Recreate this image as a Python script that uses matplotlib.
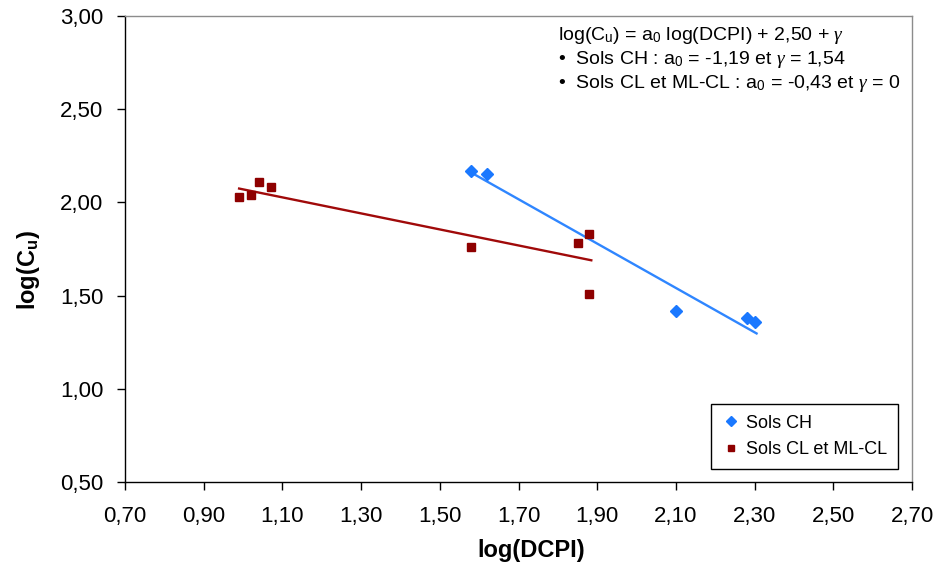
import numpy as np
import matplotlib
matplotlib.use("Agg")
import matplotlib.pyplot as plt

# font setup (Arial-like + serif greek in math)
plt.rcParams["font.family"] = ["Liberation Sans", "DejaVu Sans"]
plt.rcParams["mathtext.fontset"] = "custom"
plt.rcParams["mathtext.rm"] = "Liberation Sans"
plt.rcParams["mathtext.bf"] = "Liberation Sans:bold"
plt.rcParams["mathtext.it"] = "Liberation Serif:italic"

# Sols CH data
ch_x = [1.58, 1.62, 2.10, 2.28, 2.30]
ch_y = [2.17, 2.15, 1.42, 1.38, 1.36]

# Sols CL et ML-CL data
cl_x = [0.99, 1.02, 1.04, 1.07, 1.58, 1.85, 1.88, 1.88]
cl_y = [2.03, 2.04, 2.11, 2.08, 1.76, 1.78, 1.83, 1.51]

# model: log(Cu) = a0 log(DCPI) + 2,50 + gamma
a0_ch, gamma_ch = -1.19, 1.54
a0_cl, gamma_cl = -0.43, 0.0
fit_ch_x = np.array([1.58, 2.305])
fit_cl_x = np.array([0.99, 1.885])

xticks = [0.70, 0.90, 1.10, 1.30, 1.50, 1.70, 1.90, 2.10, 2.30, 2.50, 2.70]
yticks = [0.50, 1.00, 1.50, 2.00, 2.50, 3.00]

blue = "#1A78FF"
blue_line = "#2F86FF"
red = "#8E0000"
red_line = "#A00A0A"

fig = plt.figure(figsize=(9.36, 5.71), dpi=100)
ax = fig.add_axes([125 / 936, 1 - 482 / 571, 787 / 936, 466 / 571])

ax.plot(fit_ch_x, a0_ch * fit_ch_x + 2.50 + gamma_ch, color=blue_line, lw=1.7, zorder=2)
ax.plot(fit_cl_x, a0_cl * fit_cl_x + 2.50 + gamma_cl, color=red_line, lw=1.7, zorder=2)

ax.plot(ch_x, ch_y, ls="none", marker="D", ms=6, color=blue, mec=blue, label="Sols CH", zorder=3)
ax.plot(cl_x, cl_y, ls="none", marker="s", ms=5.2, color=red, mec=red, label="Sols CL et ML-CL", zorder=3)

ax.set_xlim(0.70, 2.70)
ax.set_ylim(0.50, 3.00)
ax.set_xticks(xticks)
ax.set_yticks(yticks)
ax.set_xticklabels([f"{v:.2f}".replace(".", ",") for v in xticks])
ax.set_yticklabels([f"{v:.2f}".replace(".", ",") for v in yticks])
ax.tick_params(direction="out", length=5.5, width=1, labelsize=16, colors="black")
ax.tick_params(axis="x", pad=12)
ax.tick_params(axis="y", pad=10)

for s in ["left", "bottom"]:
    ax.spines[s].set_color("black")
    ax.spines[s].set_linewidth(1)
for s in ["top", "right"]:
    ax.spines[s].set_color("#8C8C8C")
    ax.spines[s].set_linewidth(1)

ax.set_xlabel("log(DCPI)", fontsize=17, fontweight="bold")
ax.set_ylabel(r"log(C$_\mathbf{u}$)", fontsize=17, fontweight="bold")
ax.xaxis.set_label_coords(0.516, -0.122)
ax.yaxis.set_label_coords(-0.106, 0.455)

# equation annotation
tx = (558 - 125) / 787
ax.text(tx, 0.959, r"log(C$_\mathrm{u}$) = a$_\mathrm{0}$ log(DCPI) + 2,50 + $\gamma$",
        transform=ax.transAxes, fontsize=14, va="center", ha="left")
ax.text(tx, 0.906, r"•  Sols CH : a$_\mathrm{0}$ = -1,19 et $\gamma$ = 1,54",
        transform=ax.transAxes, fontsize=14, va="center", ha="left")
ax.text(tx, 0.856, r"•  Sols CL et ML-CL : a$_\mathrm{0}$ = -0,43 et $\gamma$ = 0",
        transform=ax.transAxes, fontsize=14, va="center", ha="left")

leg = ax.legend(loc="lower right", bbox_to_anchor=(0.982, 0.028), borderaxespad=0,
                fontsize=13, handlelength=1.0, handletextpad=0.35, borderpad=0.58,
                labelspacing=0.55, fancybox=False, framealpha=1, markerscale=0.8)
leg.get_frame().set_edgecolor("black")
leg.get_frame().set_linewidth(1)

fig.savefig("out.png", dpi=100)
